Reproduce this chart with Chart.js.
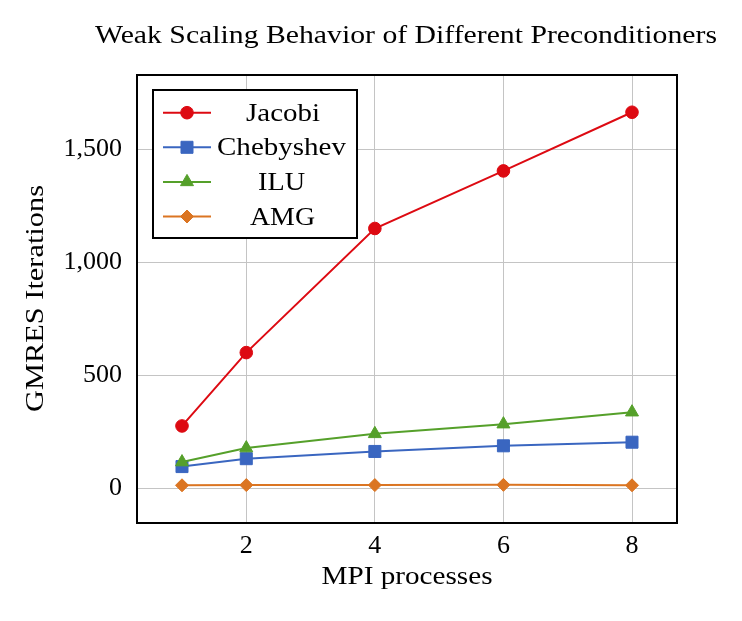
<!DOCTYPE html>
<html>
<head>
<meta charset="utf-8">
<script src="https://cdn.jsdelivr.net/npm/chart.js@4.4.0/dist/chart.umd.min.js"></script>
<style>
  html, body { margin: 0; padding: 0; background: #fff; }
  #wrap { width: 742px; height: 621px; }
</style>
</head>
<body>
<div id="wrap"><canvas id="myChart"></canvas></div>
<script>
// data
const processes = [1, 2, 4, 6, 8];
const jacobi    = [275, 600, 1150, 1405, 1665];
const chebyshev = [95, 130, 162, 187, 203];
const ilu       = [115, 177, 240, 283, 336];
const amg       = [12, 13, 13, 14, 12];
const xTicks = [2, 4, 6, 8];
const yTicks = [0, 500, 1000, 1500];

const serif = "'Liberation Serif', 'DejaVu Serif', serif";

function toPoints(ys) {
    return processes.map((x, i) => ({ x: x, y: ys[i] }));
}

// later series are drawn on top, as in pgfplots (lower order = on top)
function series(label, ys, color, style, radius, order) {
    return {
        label: label,
        data: toPoints(ys),
        borderColor: color,
        backgroundColor: color,
        borderWidth: 2,
        pointStyle: style,
        pointRadius: radius,
        pointHoverRadius: radius,
        pointBorderWidth: 1,
        tension: 0,
        order: order
    };
}

// Computer Modern is wider than Times, so stretch the text to the width it has in the picture
function wideText(ctx, text, cx, baseline, width) {
    const w = ctx.measureText(text).width;
    ctx.save();
    ctx.translate(cx, baseline);
    ctx.scale(width / w, 1);
    ctx.textAlign = 'center';
    ctx.textBaseline = 'alphabetic';
    ctx.fillText(text, 0, 0);
    ctx.restore();
}

// legend widths / centres as measured
const legendText = [
    { cx: 283, w: 74 },
    { cx: 281.5, w: 129 },
    { cx: 281.5, w: 47 },
    { cx: 282.5, w: 65 }
];

const decorations = {
    id: 'decorations',
    afterDraw(chart) {
        const ctx = chart.ctx;
        const area = chart.chartArea;
        ctx.save();

        // frame
        ctx.strokeStyle = '#000';
        ctx.lineWidth = 2;
        ctx.strokeRect(area.left, area.top, area.right - area.left, area.bottom - area.top);

        ctx.fillStyle = '#000';
        ctx.font = '25px ' + serif;
        wideText(ctx, 'Weak Scaling Behavior of Different Preconditioners', 406, 43, 622);
        wideText(ctx, 'MPI processes', 407, 584, 171);
        ctx.save();
        ctx.translate(43, 298.5);
        ctx.rotate(-Math.PI / 2);
        wideText(ctx, 'GMRES Iterations', 0, 0, 227);
        ctx.restore();

        // legend
        const bx = 153, by = 90, bw = 204, bh = 148;
        ctx.fillStyle = '#fff';
        ctx.fillRect(bx, by, bw, bh);
        ctx.strokeStyle = '#000';
        ctx.lineWidth = 2;
        ctx.strokeRect(bx, by, bw, bh);
        chart.data.datasets.forEach((ds, i) => {
            const y = 112.7 + i * 34.6;
            ctx.strokeStyle = ds.borderColor;
            ctx.lineWidth = 2;
            ctx.beginPath();
            ctx.moveTo(163, y);
            ctx.lineTo(211, y);
            ctx.stroke();
            ctx.fillStyle = ds.borderColor;
            ctx.lineWidth = 1;
            Chart.helpers.drawPoint(ctx, {
                pointStyle: ds.pointStyle,
                radius: ds.pointRadius,
                borderWidth: 1,
                rotation: 0
            }, 187, y);
            ctx.fillStyle = '#000';
            wideText(ctx, ds.label, legendText[i].cx, y + 8, legendText[i].w);
        });
        ctx.restore();
    }
};

const ctx = document.getElementById('myChart').getContext('2d');
const myChart = new Chart(ctx, {
    type: 'line',
    data: {
        datasets: [
            series('Jacobi', jacobi, '#dd0a12', 'circle', 6.3, 4),
            series('Chebyshev', chebyshev, '#3a66c0', 'rect', 8.5, 3),
            series('ILU', ilu, '#55a02a', 'triangle', 7.5, 2),
            series('AMG', amg, '#db7522', 'rectRot', 6.5, 1)
        ]
    },
    options: {
        responsive: true,
        maintainAspectRatio: false,
        animation: false,
        layout: {
            padding: { top: 75, right: 65, bottom: 0, left: 0 }
        },
        plugins: {
            legend: { display: false },
            tooltip: { enabled: false }
        },
        scales: {
            x: {
                type: 'linear',
                min: 0.3,
                max: 8.7,
                afterBuildTicks(axis) {
                    axis.ticks = xTicks.map(v => ({ value: v }));
                },
                afterFit(axis) { axis.height = 98; },
                grid: { color: '#c4c4c4', lineWidth: 1, drawTicks: false },
                border: { display: false },
                ticks: {
                    color: '#000',
                    padding: 8,
                    font: { family: serif, size: 26 }
                }
            },
            y: {
                type: 'linear',
                min: -155,
                max: 1830,
                afterBuildTicks(axis) {
                    axis.ticks = yTicks.map(v => ({ value: v }));
                },
                afterFit(axis) { axis.width = 137; },
                grid: { color: '#c4c4c4', lineWidth: 1, drawTicks: false },
                border: { display: false },
                ticks: {
                    color: '#000',
                    padding: 15,
                    font: { family: serif, size: 26 },
                    callback: v => v.toLocaleString('en-US')
                }
            }
        }
    },
    plugins: [decorations]
});
</script>
</body>
</html>
